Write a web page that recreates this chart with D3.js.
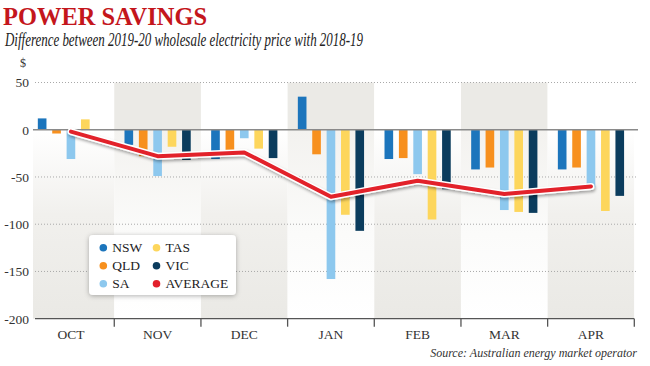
<!DOCTYPE html>
<html><head><meta charset="utf-8">
<script src="https://cdn.jsdelivr.net/npm/d3@7"></script>
<style>
html,body{margin:0;padding:0;background:#fff;}
svg{display:block;}
</style></head>
<body>
<svg id="chart" width="650" height="366"></svg>
<script>
const months = ["OCT","NOV","DEC","JAN","FEB","MAR","APR"];
const seriesNames = ["NSW","QLD","SA","TAS","VIC"];
const NSW = [12, -16, -31, 35, -31, -42, -42];
const QLD = [-4, -28, -22, -26, -30, -40, -40];
const SA  = [-31, -49, -9, -158, -47, -85, -61];
const TAS = [11, -18, -20, -90, -95, -87, -86];
const VIC = [0, -32, -30, -107, -63, -88, -70];
const AVERAGE = [-2, -28, -24, -71, -54, -68, -60];
const yTicks = [50, 0, -50, -100, -150, -200];
const colors = {NSW:"#1c75bc", QLD:"#f7901e", SA:"#8dc8ee", TAS:"#fdd65c", VIC:"#0b3c5d", AVERAGE:"#e2202b"};
const seriesData = {NSW, QLD, SA, TAS, VIC};

const svg = d3.select("#chart");
const serif = "'Liberation Serif','DejaVu Serif',serif";
const plotLeft = 35, plotRight = 638;

const x = d3.scaleBand().domain(months).range([27.6, 634.3]);
const x1 = d3.scaleBand().domain(seriesNames).range([0, x.bandwidth()]).paddingInner(0.4).paddingOuter(0.71);
const y = d3.scaleLinear().domain([-200, 50]).range([318.7, 82.5]);

const defs = svg.append("defs");
const gDown = defs.append("linearGradient").attr("id","gDown").attr("x1",0).attr("y1",0).attr("x2",0).attr("y2",1);
gDown.append("stop").attr("offset","0%").attr("stop-color","#ffffff");
gDown.append("stop").attr("offset","45%").attr("stop-color","#f1f0ed");
gDown.append("stop").attr("offset","100%").attr("stop-color","#eae9e5");
const gUp = defs.append("linearGradient").attr("id","gUp").attr("x1",0).attr("y1",0).attr("x2",0).attr("y2",1);
gUp.append("stop").attr("offset","0%").attr("stop-color","#f3f2ef");
gUp.append("stop").attr("offset","55%").attr("stop-color","#fbfbfa");
gUp.append("stop").attr("offset","100%").attr("stop-color","#ffffff");
const sh = defs.append("filter").attr("id","shadow").attr("x","-20%").attr("y","-50%").attr("width","140%").attr("height","200%");
sh.append("feDropShadow").attr("dx",1).attr("dy",2).attr("stdDeviation",1.5).attr("flood-color","#000").attr("flood-opacity",0.35);
const sh2 = defs.append("filter").attr("id","boxshadow").attr("x","-20%").attr("y","-30%").attr("width","140%").attr("height","160%");
sh2.append("feDropShadow").attr("dx",0).attr("dy",1).attr("stdDeviation",2.5).attr("flood-color","#000").attr("flood-opacity",0.3);
defs.append("clipPath").attr("id","plotclip").append("rect")
  .attr("x", plotLeft-2).attr("y", 0).attr("width", 634.3 - plotLeft + 2).attr("height", 366);

// background bands
const bg = svg.append("g").attr("clip-path","url(#plotclip)");
months.forEach((m,i) => {
  const odd = i % 2 === 1;
  bg.append("rect").attr("x", x(m)).attr("y", y(50)).attr("width", x.bandwidth()).attr("height", y(0)-y(50))
    .attr("fill", odd ? "#ebeae6" : "#ffffff");
  bg.append("rect").attr("x", x(m)).attr("y", y(0)).attr("width", x.bandwidth()).attr("height", y(-200)-y(0))
    .attr("fill", odd ? "url(#gUp)" : "url(#gDown)");
});

// gridlines
svg.append("g").selectAll("line").data(yTicks.filter(d => d !== 0 && d !== -200)).join("line")
  .attr("x1", plotLeft).attr("x2", plotRight).attr("y1", d => y(d)).attr("y2", d => y(d))
  .attr("stroke","#a9a9a9").attr("stroke-width",1).attr("stroke-dasharray","1,2");

// y axis labels
const yAxis = svg.append("g").attr("transform",`translate(${plotLeft-4},0)`)
  .call(d3.axisLeft(y).tickValues(yTicks).tickSize(0).tickPadding(2).tickFormat(d => String(d)));
yAxis.select(".domain").remove();
yAxis.selectAll("text").attr("font-family", serif).attr("font-size", 13.5).attr("fill","#333");
svg.append("text").attr("x", 23).attr("y", 67).attr("text-anchor","middle")
  .attr("font-family", serif).attr("font-size", 12).attr("fill","#333").text("$");

// bars
const barG = svg.append("g");
seriesNames.forEach(s => {
  barG.append("g").selectAll("rect").data(seriesData[s].map((v,i)=>({m:months[i], v}))).join("rect")
    .attr("x", d => x(d.m) + x1(s)).attr("width", x1.bandwidth())
    .attr("y", d => y(Math.max(0, d.v))).attr("height", d => Math.abs(y(d.v) - y(0)))
    .attr("fill", colors[s]);
});

// zero line
svg.append("line").attr("x1", plotLeft-2).attr("x2", plotRight).attr("y1", y(0)).attr("y2", y(0))
  .attr("stroke","#8a8a8a").attr("stroke-width",1.5);

// average line
const line = d3.line().x((d,i) => x(months[i]) + x.bandwidth()/2).y(d => y(d));
const lg = svg.append("g").attr("filter","url(#shadow)");
lg.append("path").attr("d", line(AVERAGE)).attr("fill","none").attr("stroke","#ffffff")
  .attr("stroke-width",7).attr("stroke-linejoin","round").attr("stroke-linecap","round");
lg.append("path").attr("d", line(AVERAGE)).attr("fill","none").attr("stroke",colors.AVERAGE)
  .attr("stroke-width",4).attr("stroke-linejoin","round").attr("stroke-linecap","round");

// bottom axis
const xAxis = svg.append("g").attr("transform",`translate(0,${y(-200)})`)
  .call(d3.axisBottom(x).tickSize(0).tickPadding(11));
xAxis.select(".domain").remove();
xAxis.selectAll("text").attr("font-family", serif).attr("font-size", 13.5).attr("fill","#333");
svg.append("line").attr("x1", plotLeft).attr("x2", 634.3).attr("y1", y(-200)).attr("y2", y(-200))
  .attr("stroke","#555").attr("stroke-width",1.3);
svg.append("g").selectAll("line").data(months).join("line")
  .attr("x1", d => x(d)+x.bandwidth()).attr("x2", d => x(d)+x.bandwidth())
  .attr("y1", y(-200)).attr("y2", y(-200)+8).attr("stroke","#555").attr("stroke-width",1.3);

// legend
const legendItems = [["NSW","TAS"],["QLD","VIC"],["SA","AVERAGE"]];
const leg = svg.append("g");
leg.append("rect").attr("x", 89).attr("y", 235).attr("width", 147).attr("height", 60).attr("rx", 4)
  .attr("fill","#fff").attr("filter","url(#boxshadow)");
legendItems.forEach((row, r) => {
  row.forEach((name, c) => {
    const cx = c === 0 ? 103.3 : 156.5;
    const cy = 247.7 + r*18;
    leg.append("circle").attr("cx", cx).attr("cy", cy).attr("r", 3.8).attr("fill", colors[name]);
    leg.append("text").attr("x", cx + 9).attr("y", cy + 4.6).attr("font-family", serif)
      .attr("font-size", 13.5).attr("fill","#222").text(name);
  });
});

// titles
svg.append("text").attr("x", 3).attr("y", 25).attr("font-family", serif).attr("font-weight","bold")
  .attr("font-size", 25).attr("fill","#c4161c").attr("textLength", 204).attr("lengthAdjust","spacingAndGlyphs")
  .text("POWER SAVINGS");
svg.append("text").attr("x", 5).attr("y", 46).attr("font-family", serif).attr("font-style","italic")
  .attr("font-size", 18.5).attr("fill","#222").attr("textLength", 358).attr("lengthAdjust","spacingAndGlyphs")
  .text("Difference between 2019-20 wholesale electricity price with 2018-19");
svg.append("text").attr("x", 637).attr("y", 357).attr("text-anchor","end").attr("font-family", serif)
  .attr("font-style","italic").attr("font-size", 12).attr("fill","#333")
  .text("Source: Australian energy market operator");
</script>
</body></html>
